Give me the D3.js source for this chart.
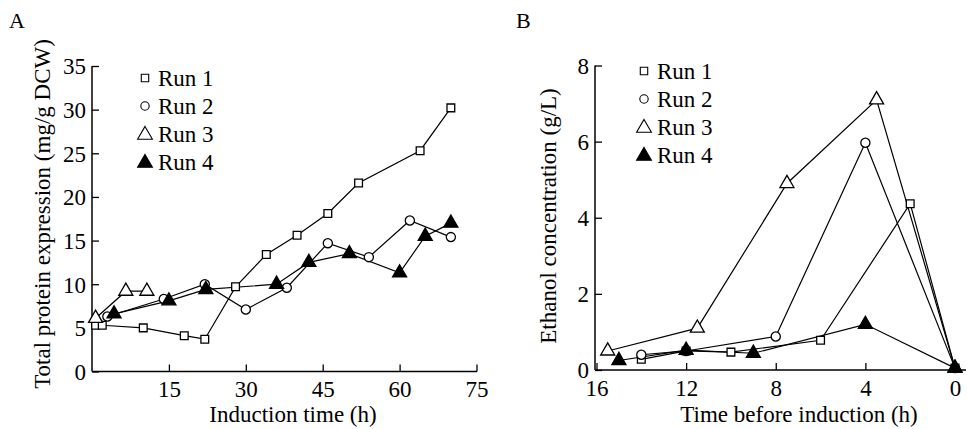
<!DOCTYPE html>
<html><head><meta charset="utf-8">
<script src="https://cdn.jsdelivr.net/npm/d3@7"></script>
<style>
body{margin:0;background:#fff;}
svg text{font-family:"Liberation Serif","Times New Roman",serif !important;fill:#000;}
</style></head>
<body><svg id="c" width="967" height="429"></svg>
<script>
// ---- Panel A data: induction time (h) vs total protein (mg/g DCW)
const runNames = ["Run 1","Run 2","Run 3","Run 4"];
const aRun1X = [0.7, 2, 10, 18, 22, 28, 34, 40, 46, 52, 64, 70];
const aRun1Y = [5.3, 5.3, 5.0, 4.1, 3.7, 9.7, 13.4, 15.6, 18.1, 21.6, 25.3, 30.2];
const aRun2X = [3, 14, 22, 30, 38, 46, 54, 62, 70];
const aRun2Y = [6.3, 8.3, 10.0, 7.1, 9.6, 14.7, 13.1, 17.3, 15.4];
const aRun3X = [0.7, 6.6, 10.7];
const aRun3Y = [6.1, 9.2, 9.2];
const aRun4X = [4.3, 15, 22.2, 36, 42.3, 50.2, 60, 65, 70];
const aRun4Y = [6.6, 8.1, 9.4, 10.0, 12.5, 13.5, 11.3, 15.5, 17.0];
const aXTicks = [15, 30, 45, 60, 75];
const aYTicks = [0, 5, 10, 15, 20, 25, 30, 35];

// ---- Panel B data: time before induction (h) vs ethanol (g/L)
const bRun1X = [14, 12, 10, 6, 2, 0];
const bRun1Y = [0.28, 0.5, 0.47, 0.78, 4.37, 0.05];
const bRun2X = [14, 12, 8, 4, 0];
const bRun2Y = [0.4, 0.5, 0.88, 5.97, 0.05];
const bRun3X = [15.5, 11.5, 7.5, 3.5, 0];
const bRun3Y = [0.5, 1.1, 4.9, 7.1, 0.05];
const bRun4X = [15, 12, 9, 4, 0];
const bRun4Y = [0.25, 0.52, 0.44, 1.2, 0.05];
const bXTicks = [16, 12, 8, 4, 0];
const bYTicks = [0, 2, 4, 6, 8];

const svg = d3.select("#c");
const FS = 23;
const FF = '"Liberation Serif","Times New Roman",serif';

const markerDefs = [
  {type: d3.symbolSquare, size: 60, fill: "#fff"},
  {type: d3.symbolCircle, size: 66, fill: "#fff"},
  {type: d3.symbolTriangle, size: 85, fill: "#fff"},
  {type: d3.symbolTriangle, size: 85, fill: "#000"}
];

function txt(sel){ return sel.attr("font-family", FF).style("font-family", FF).style("font-size", FS + "px"); }

function panel(cfg){
  const g = svg.append("g");
  const x = d3.scaleLinear().domain(cfg.xDomain).range(cfg.xRange);
  const y = d3.scaleLinear().domain(cfg.yDomain).range(cfg.yRange);

  // axes
  const xa = d3.axisBottom(x).tickValues(cfg.xTicks).tickSizeInner(-7).tickSizeOuter(0).tickPadding(0);
  const ya = d3.axisLeft(y).tickValues(cfg.yTicks).tickSizeInner(-7).tickSizeOuter(0).tickPadding(6);
  const gx = g.append("g").attr("transform", `translate(0,${cfg.yRange[0]})`).call(xa);
  const gy = g.append("g").attr("transform", `translate(${cfg.axisX},0)`).call(ya);
  [gx, gy].forEach(a => {
    a.attr("font-family", FF).attr("font-size", FS);
    txt(a.selectAll("text"));
    a.selectAll("line").attr("stroke", "#000").attr("stroke-width", 1.3);
    a.select(".domain").remove();
  });
  gx.selectAll("text").attr("y", 0).attr("dy", "1.13em");
  gy.selectAll("text").attr("dy", "0.34em");
  g.append("line").attr("x1", cfg.axisX).attr("x2", cfg.xLineEnd)
    .attr("y1", cfg.yRange[0]).attr("y2", cfg.yRange[0]).attr("stroke", "#000").attr("stroke-width", 1.5);
  g.append("line").attr("x1", cfg.axisX).attr("x2", cfg.axisX)
    .attr("y1", cfg.yRange[0]).attr("y2", cfg.yRange[1]).attr("stroke", "#000").attr("stroke-width", 1.5);

  // titles
  txt(g.append("text")).attr("x", cfg.xTitleX).attr("y", 422).attr("text-anchor", "middle").text(cfg.xTitle);
  txt(g.append("text")).attr("transform", `translate(${cfg.yTitleX},${cfg.yTitleY}) rotate(-90)`)
    .attr("text-anchor", "middle").attr("dy", "0.35em").text(cfg.yTitle);
  txt(g.append("text")).attr("x", cfg.labelX).attr("y", 28).style("font-size", "22px").text(cfg.label);

  // series
  const line = d3.line().x(d => x(d[0])).y(d => y(d[1]));
  cfg.series.forEach(s => {
    const pts = s.xs.map((v, k) => [v, s.ys[k]]);
    g.append("path").datum(pts).attr("d", line).attr("fill", "none").attr("stroke", "#000").attr("stroke-width", 1.2);
  });
  cfg.series.forEach((s, i) => {
    const m = markerDefs[i];
    const pts = s.xs.map((v, k) => [v, s.ys[k]]);
    g.selectAll(null).data(pts).join("path")
      .attr("transform", d => `translate(${x(d[0])},${y(d[1])})`)
      .attr("d", d3.symbol().type(m.type).size(m.size))
      .attr("fill", m.fill).attr("stroke", "#000").attr("stroke-width", 1.3);
  });

  // legend
  runNames.forEach((name, i) => {
    const m = markerDefs[i];
    const yy = cfg.legY + i * 28;
    g.append("path").attr("transform", `translate(${cfg.legX},${yy + (i >= 2 ? 1 : 0)})`)
      .attr("d", d3.symbol().type(m.type).size(i < 2 ? 55 : 95))
      .attr("fill", m.fill).attr("stroke", "#000").attr("stroke-width", 1.1);
    txt(g.append("text")).attr("x", cfg.legX + 13).attr("y", yy).attr("dy", "0.33em").text(name);
  });
}

panel({
  xDomain: [0, 75], xRange: [92, 476.5], yDomain: [0, 35], yRange: [371.5, 66],
  axisX: 92, xLineEnd: 477, xTicks: aXTicks, yTicks: aYTicks,
  xTitle: "Induction time (h)", xTitleX: 293,
  yTitle: "Total protein expression (mg/g DCW)", yTitleX: 42, yTitleY: 214,
  label: "A", labelX: 9, legX: 145, legY: 78,
  series: [
    {xs: aRun1X, ys: aRun1Y}, {xs: aRun2X, ys: aRun2Y},
    {xs: aRun3X, ys: aRun3Y}, {xs: aRun4X, ys: aRun4Y}
  ]
});

panel({
  xDomain: [16, 0], xRange: [596.5, 955], yDomain: [0, 8], yRange: [370, 65.5],
  axisX: 595, xLineEnd: 966, xTicks: bXTicks, yTicks: bYTicks,
  xTitle: "Time before induction (h)", xTitleX: 799,
  yTitle: "Ethanol concentration (g/L)", yTitleX: 548, yTitleY: 216,
  label: "B", labelX: 516, legX: 644, legY: 71,
  series: [
    {xs: bRun1X, ys: bRun1Y}, {xs: bRun2X, ys: bRun2Y},
    {xs: bRun3X, ys: bRun3Y}, {xs: bRun4X, ys: bRun4Y}
  ]
});
</script></body></html>
